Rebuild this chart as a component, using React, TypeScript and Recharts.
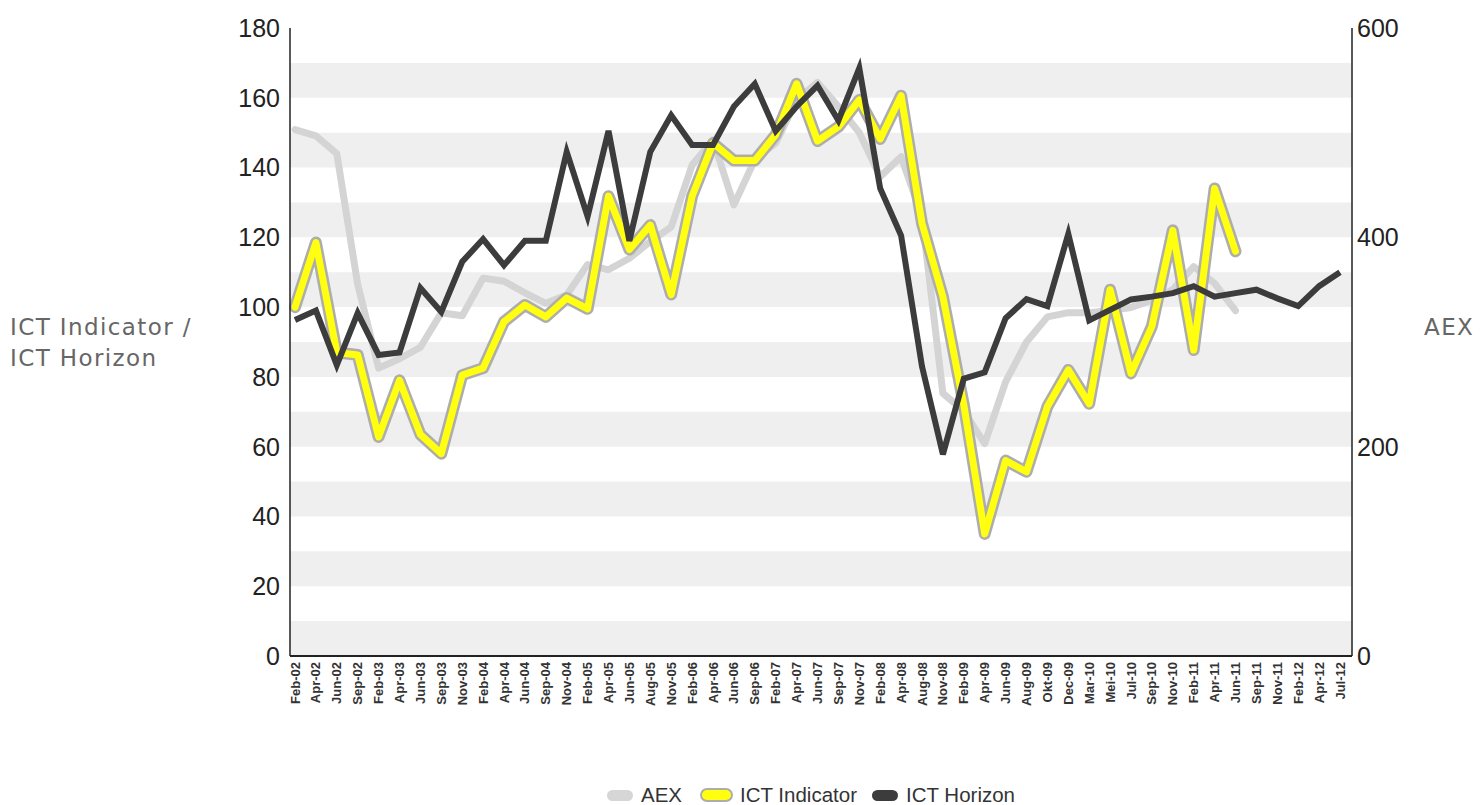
import { LineChart, Line, XAxis, YAxis, ReferenceArea } from 'recharts';

const months = [
  'Feb-02', 'Apr-02', 'Jun-02', 'Sep-02', 'Feb-03', 'Apr-03', 'Jun-03', 'Sep-03', 'Nov-03', 'Feb-04',
  'Apr-04', 'Jun-04', 'Sep-04', 'Nov-04', 'Feb-05', 'Apr-05', 'Jun-05', 'Aug-05', 'Nov-05', 'Feb-06',
  'Apr-06', 'Jun-06', 'Sep-06', 'Feb-07', 'Apr-07', 'Jun-07', 'Sep-07', 'Nov-07', 'Feb-08', 'Apr-08',
  'Aug-08', 'Nov-08', 'Feb-09', 'Apr-09', 'Jun-09', 'Aug-09', 'Okt-09', 'Dec-09', 'Mar-10', 'Mei-10',
  'Jul-10', 'Sep-10', 'Nov-10', 'Feb-11', 'Apr-11', 'Jun-11', 'Sep-11', 'Nov-11', 'Feb-12', 'Apr-12',
  'Jul-12',
];

// AEX (right axis), ends Jun-11
const aex = [
  503, 497, 480, 355, 275, 284, 295, 328, 325, 361,
  358, 347, 337, 345, 374, 369, 380, 396, 410, 469,
  493, 431, 474, 490, 531, 548, 525, 500, 458, 477,
  420, 251, 234, 203, 262, 300, 324, 328, 328, 330,
  333, 340, 350, 372, 356, 330,
];

// ICT Indicator (left axis), ends Jun-11
const indicator = [
  100, 118.5, 87, 86.3, 62.8, 79, 63.5, 58, 80.5, 82.5,
  95.8, 100.6, 97.2, 102.6, 99.5, 131.8, 116.5, 123.5, 103.6, 131.8,
  147, 142, 142, 149.4, 164, 147.6, 151.7, 159.4, 148.2, 160.6,
  124, 103, 72, 35, 56, 52.8, 71.5, 82, 72.3, 105,
  81, 94.5, 122, 87.7, 134, 116,
];

// ICT Horizon (left axis)
const horizon = [
  96.3, 99, 83.4, 98.3, 86.3, 87, 105.5, 98.6, 113, 119.5,
  112, 119, 119, 144.5, 126, 150.5, 119, 144.5, 155, 146.5,
  146.5, 157.5, 164, 150.5, 157.5, 163.5, 153.5, 168.5, 134, 120.5,
  83, 57.8, 79.5, 81.3, 96.8, 102.3, 100.3, 121, 96.2, 99.2,
  102.2, 103, 104, 106, 103, 104, 105, 102.5, 100.3, 106,
  110,
];

const leftTicks = [0, 20, 40, 60, 80, 100, 120, 140, 160, 180];
const rightTicks = [0, 200, 400, 600];
const bandStarts = [0, 20, 40, 60, 80, 100, 120, 140, 160];

const data = months.map((label, i) => ({
  label,
  aex: aex[i],
  indicator: indicator[i],
  horizon: horizon[i],
}));

const numFont = '"Liberation Sans", Arial, sans-serif';
const titleFont = '"DejaVu Sans", "Noto Sans", sans-serif';

const MonthTick = ({ x, y, payload }: any) => (
  <text
    transform={`translate(${x + 4.5},${y}) rotate(-90)`}
    textAnchor="end"
    fontFamily={numFont}
    fontWeight="bold"
    fontSize={13}
    fill="#333"
  >
    {payload.value}
  </text>
);

const LegendItem = ({
  left,
  fill,
  stroke,
  label,
}: {
  left: number;
  fill: string;
  stroke?: string;
  label: string;
}) => (
  <div
    style={{
      position: 'absolute',
      left,
      top: 784,
      height: 22,
      display: 'flex',
      alignItems: 'center',
      fontFamily: numFont,
      fontSize: 20.5,
      color: '#333',
      whiteSpace: 'nowrap',
    }}
  >
    <span
      style={{
        display: 'inline-block',
        width: stroke ? 33 : 26,
        height: stroke ? 14 : 11,
        borderRadius: 8,
        background: fill,
        border: stroke ? `2.5px solid ${stroke}` : 'none',
        marginRight: stroke ? 7 : 8,
        boxSizing: 'border-box',
      }}
    />
    {label}
  </div>
);

const titleStyle = {
  position: 'absolute' as const,
  fontFamily: titleFont,
  fontSize: 23,
  letterSpacing: 1.4,
  lineHeight: '28px',
  height: 28,
  color: '#666',
  whiteSpace: 'nowrap' as const,
};

export default function App() {
  return (
    <div
      style={{
        position: 'absolute',
        left: 0,
        top: 0,
        width: 1481,
        height: 805,
        background: '#fff',
        overflow: 'hidden',
      }}
    >
      <LineChart
        width={1481}
        height={805}
        data={data}
        margin={{ top: 28, right: 69, left: 230, bottom: 0 }}
      >
        <XAxis xAxisId="band" type="number" domain={[0, 1]} hide />
        {bandStarts.map((b) => (
          <ReferenceArea
            key={b}
            xAxisId="band"
            yAxisId="left"
            y1={b}
            y2={b + 10}
            fill="#efefef"
            fillOpacity={1}
            stroke="none"
          />
        ))}
        <XAxis
          dataKey="label"
          interval={0}
          height={149}
          padding={{ left: 5, right: 12 }}
          axisLine={{ stroke: '#222', strokeWidth: 2 }}
          tickLine={false}
          tickSize={0}
          tickMargin={6}
          tick={<MonthTick />}
        />
        <YAxis
          yAxisId="left"
          width={60}
          domain={[0, 180]}
          ticks={leftTicks}
          axisLine={{ stroke: '#222', strokeWidth: 1.5 }}
          tickLine={false}
          tickSize={0}
          tickMargin={10}
          tick={{ fontFamily: numFont, fontSize: 25, fill: '#222' }}
        />
        <YAxis
          yAxisId="right"
          orientation="right"
          width={60}
          domain={[0, 600]}
          ticks={rightTicks}
          axisLine={{ stroke: '#222', strokeWidth: 1.5 }}
          tickLine={false}
          tickSize={0}
          tickMargin={5}
          tick={{ fontFamily: numFont, fontSize: 25, fill: '#222' }}
        />
        <Line
          yAxisId="right"
          dataKey="aex"
          stroke="#d4d4d4"
          strokeWidth={7}
          strokeLinejoin="round"
          strokeLinecap="round"
          dot={false}
          activeDot={false}
          isAnimationActive={false}
        />
        <Line
          yAxisId="left"
          dataKey="indicator"
          stroke="#adadad"
          strokeWidth={12}
          strokeLinejoin="round"
          strokeLinecap="round"
          dot={false}
          activeDot={false}
          legendType="none"
          isAnimationActive={false}
        />
        <Line
          yAxisId="left"
          dataKey="indicator"
          stroke="#ffff0f"
          strokeWidth={7}
          strokeLinejoin="round"
          strokeLinecap="round"
          dot={false}
          activeDot={false}
          isAnimationActive={false}
        />
        <Line
          yAxisId="left"
          dataKey="horizon"
          stroke="#3c3c3c"
          strokeWidth={6}
          dot={false}
          activeDot={false}
          isAnimationActive={false}
        />
      </LineChart>

      <div style={{ ...titleStyle, left: 10, top: 313 }}>ICT Indicator /</div>
      <div style={{ ...titleStyle, left: 10, top: 344 }}>ICT Horizon</div>
      <div style={{ ...titleStyle, left: 1424, top: 313 }}>AEX</div>

      <LegendItem left={607} fill="#d6d6d6" label="AEX" />
      <LegendItem left={700} fill="#ffff0f" stroke="#adadad" label="ICT Indicator" />
      <LegendItem left={872} fill="#3c3c3c" label="ICT Horizon" />
    </div>
  );
}
